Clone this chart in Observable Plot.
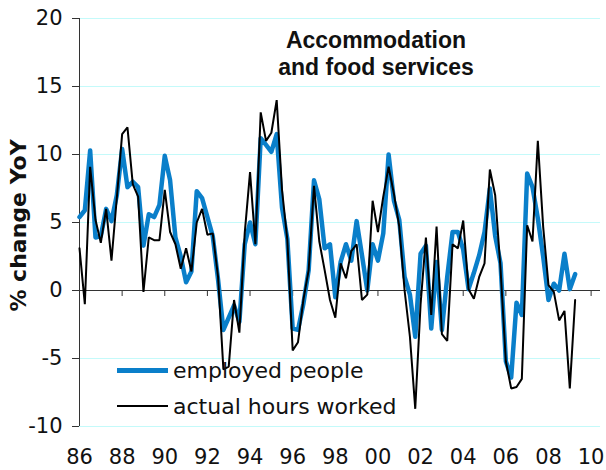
<!DOCTYPE html>
<html>
<head>
<meta charset="utf-8">
<script src="https://cdn.jsdelivr.net/npm/d3@7"></script>
<script src="https://cdn.jsdelivr.net/npm/@observablehq/plot@0.6"></script>
<style>
  html, body { margin: 0; padding: 0; background: #fff; }
  #wrap { position: relative; width: 606px; height: 470px; }
  #legend { position: absolute; left: 117px; top: 352px; font-family: "DejaVu Sans", sans-serif; font-size: 22px; color: #111; }
  #legend .item { display: flex; align-items: center; height: 36px; white-space: nowrap; }
  #legend .swatch { width: 51px; margin-right: 5px; }
</style>
</head>
<body>
<div id="wrap"><div id="legend"></div></div>
<script>
// ---- data (quarterly, % change YoY) ----
const startYear = 1986;
const employedPeople = [
  5.4, 5.9, 10.3, 3.9, 4.0, 6.0, 5.1, 7.0, 10.4, 7.6,
  8.0, 7.6, 3.3, 5.6, 5.4, 6.3, 9.9, 8.1, 3.9, 2.5,
  0.6, 1.4, 7.3, 6.8, 5.4, 4.0, 0.8, -2.9, -2.0, -1.1,
  -2.3, 3.4, 5.0, 3.4, 11.2, 10.7, 10.2, 11.5, 6.1, 3.8,
  -2.8, -2.9, -1.0, 1.5, 8.1, 6.7, 3.1, 3.4, -0.5, 2.1,
  3.4, 2.2, 5.1, 2.6, 0.0, 3.4, 2.2, 4.2, 10.0, 6.6,
  5.2, 1.0, -0.3, -3.4, 2.7, 3.3, -2.8, 2.1, -2.9, 1.0,
  4.3, 4.3, 3.0, 0.1, 1.3, 2.6, 4.3, 7.5, 4.0, 2.0,
  -5.2, -6.4, -0.9, -1.8, 8.6, 7.6, 5.3, 2.5, -0.7, 0.5,
  0.0, 2.7, 0.1, 1.2
];
const actualHoursWorked = [
  3.1, -1.0, 9.1, 5.2, 3.5, 6.0, 2.2, 6.8, 11.5, 12.0,
  7.8, 6.9, -0.1, 3.9, 3.7, 3.7, 7.4, 4.3, 3.4, 1.6,
  3.1, 1.4, 5.0, 6.0, 4.1, 4.2, 1.0, -5.8, -5.6, -0.7,
  -3.1, 4.2, 8.7, 3.4, 13.1, 11.0, 11.6, 14.0, 7.4, 3.7,
  -4.4, -3.8, -0.7, 1.5, 7.7, 3.6, 1.5, -0.7, -2.0, 2.0,
  0.9, 2.9, 3.4, -0.7, -0.3, 6.6, 4.3, 6.9, 9.1, 7.1,
  4.7, 0.0, -3.4, -8.7, -1.0, 3.9, -1.8, 4.7, -3.2, -3.7,
  3.4, 3.1, 5.15, 0.1, -0.6, 1.0, 2.0, 8.9, 7.0, 1.6,
  -5.2, -7.2, -7.1, -6.5, 4.8, 3.6, 11.0, 4.7, 0.4, -0.1,
  -2.2, -1.5, -7.2, -0.7
];
const tickYears = [1986, 1988, 1990, 1992, 1994, 1996, 1998, 2000, 2002, 2004, 2006, 2008, 2010];
const tickLabels = ["86", "88", "90", "92", "94", "96", "98", "00", "02", "04", "06", "08", "10"];
const yTicks = [-10, -5, 0, 5, 10, 15, 20];
const gridValues = [-10, -5, 5, 10, 15, 20];
const seriesNames = ["employed people", "actual hours worked"];
const seriesColors = ["#0a7fca", "#000000"];
const titleText = "Accommodation\nand food services";
const yTitle = "% change YoY";

// ---- build rows ----
const quarters = employedPeople.map((_, i) => startYear + i / 4);
const rows = quarters.map((q, i) => ({ q, employed: employedPeople[i], hours: actualHoursWorked[i] }));

const chart = Plot.plot({
  width: 606,
  height: 470,
  marginLeft: 79,
  marginRight: 6,
  marginTop: 18,
  marginBottom: 44,
  style: { fontFamily: "DejaVu Sans, sans-serif", background: "white", color: "#111" },
  x: { domain: [1986, 2010.44] },
  y: { domain: [-10, 20] },
  marks: [
    Plot.gridY(gridValues, { stroke: "#c4fafa", strokeOpacity: 1, strokeWidth: 1 }),
    Plot.ruleY([0], { stroke: "#333", strokeWidth: 1 }),
    Plot.ruleX(tickYears, { x: d => d, y1: 0, y2: 0, insetBottom: -6, stroke: "#333" }),
    Plot.ruleX([1986], { stroke: "#333", strokeWidth: 1 }),
    Plot.axisY({ ticks: yTicks, tickSize: 7, tickPadding: 10, fontSize: 21, tickFormat: d => String(d), label: null, stroke: "#333" }),
    Plot.axisX({ ticks: tickYears, tickSize: 0, tickPadding: 23, fontSize: 21, anchor: "bottom",
      tickFormat: d => tickLabels[tickYears.indexOf(d)], label: null }),
    Plot.line(rows, { x: "q", y: "employed", stroke: seriesColors[0], strokeWidth: 4.5, strokeLinejoin: "round" }),
    Plot.line(rows, { x: "q", y: "hours", stroke: seriesColors[1], strokeWidth: 2, strokeLinejoin: "miter" }),
    Plot.text([titleText], { text: d => d, frameAnchor: "top", dx: 36, dy: 10, lineAnchor: "top",
      fontFamily: "Liberation Sans, Arial, sans-serif", fontWeight: "bold", fontSize: 23, lineHeight: 1.17 }),
    Plot.text([yTitle], { text: d => d, frameAnchor: "left", rotate: -90, dx: -61, dy: 3,
      textAnchor: "middle", lineAnchor: "middle", fontWeight: "bold", fontSize: 22 })
  ]
});

const wrap = document.getElementById("wrap");
wrap.insertBefore(chart, wrap.firstChild);

const legend = document.getElementById("legend");
seriesNames.forEach((name, i) => {
  const item = document.createElement("div");
  item.className = "item";
  const sw = document.createElement("span");
  sw.className = "swatch";
  sw.style.borderTop = (i === 0 ? 5 : 2) + "px solid " + seriesColors[i];
  const label = document.createElement("span");
  label.textContent = name;
  item.appendChild(sw);
  item.appendChild(label);
  legend.appendChild(item);
});
</script>
</body>
</html>
